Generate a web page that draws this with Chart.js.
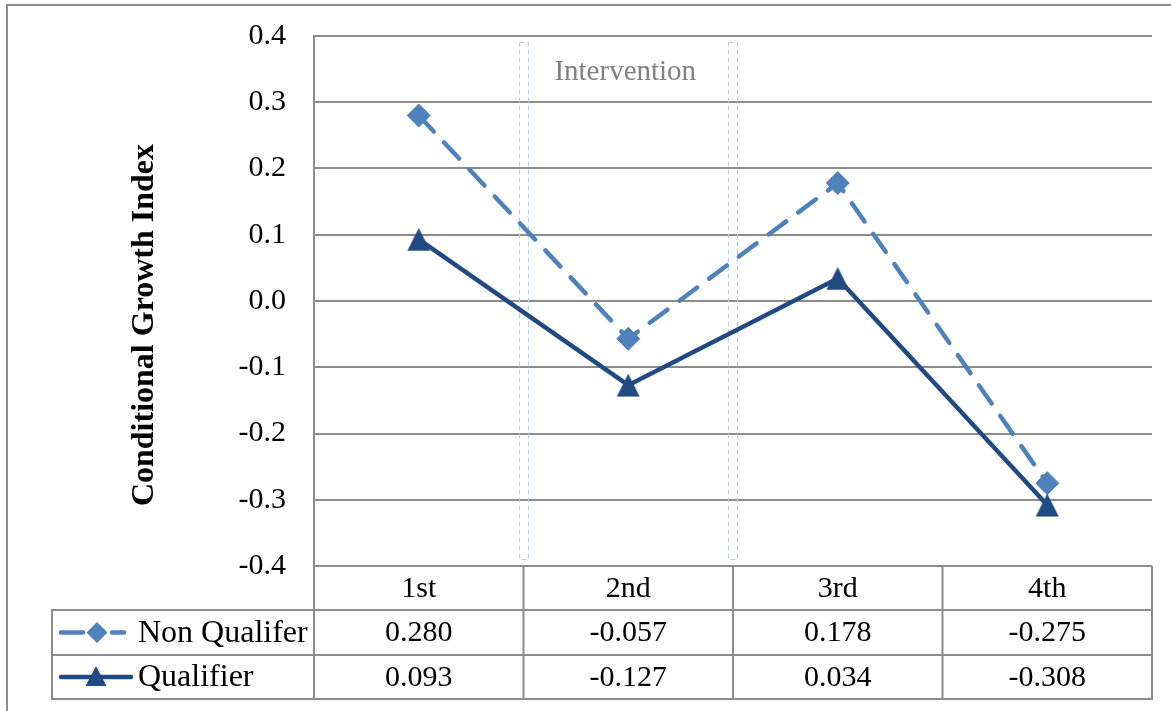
<!DOCTYPE html>
<html>
<head>
<meta charset="utf-8">
<script src="https://cdn.jsdelivr.net/npm/chart.js@4.4.1/dist/chart.umd.min.js"></script>
<style>
  html, body { margin: 0; padding: 0; background: #ffffff; }
  canvas { display: block; }
</style>
</head>
<body>
<canvas id="growth" width="1171" height="711"></canvas>
<script>
// Quarterly conditional growth index for the two groups
const categories = ['1st', '2nd', '3rd', '4th'];
const nonQualifier = [0.280, -0.057, 0.178, -0.275];
const qualifier = [0.093, -0.127, 0.034, -0.308];
const seriesNames = ['Non Qualifer', 'Qualifier'];
const yMin = -0.4;
const yMax = 0.4;
const yStep = 0.1;
const axisTitle = 'Conditional Growth Index';
const noteText = 'Intervention';
// The intervention window sits between these two category boundaries
const interventionFrom = 0;
const interventionTo = 1;

const SERIF = "'Liberation Serif', 'Times New Roman', serif";
const GRID = '#8c8c8c';
const LIGHT_BLUE = '#4f81bd';
const DARK_BLUE = '#224a82';

Chart.defaults.font.family = SERIF;
Chart.defaults.color = '#000000';

function drawDiamond(ctx, cx, cy, r, color) {
  ctx.beginPath();
  ctx.moveTo(cx, cy - r);
  ctx.lineTo(cx + r, cy);
  ctx.lineTo(cx, cy + r);
  ctx.lineTo(cx - r, cy);
  ctx.closePath();
  ctx.fillStyle = color;
  ctx.fill();
}

function drawTriangle(ctx, cx, cy, w, h, color) {
  ctx.beginPath();
  ctx.moveTo(cx, cy - h / 2);
  ctx.lineTo(cx + w / 2, cy + h / 2);
  ctx.lineTo(cx - w / 2, cy + h / 2);
  ctx.closePath();
  ctx.fillStyle = color;
  ctx.fill();
}

// Marker image: a triangle centred on its bounding box
function triangleMarker(size, color) {
  const c = document.createElement('canvas');
  c.width = size;
  c.height = size;
  drawTriangle(c.getContext('2d'), size / 2, size / 2, size - 1, size - 1, color);
  return c;
}

// Page frame, white background and the rotated axis title
const framePlugin = {
  id: 'frame',
  beforeDraw(chart) {
    const ctx = chart.ctx;
    ctx.save();
    ctx.fillStyle = '#ffffff';
    ctx.fillRect(0, 0, chart.width, chart.height);
    ctx.strokeStyle = GRID;
    ctx.lineWidth = 2;
    ctx.beginPath();
    ctx.moveTo(7, chart.height + 2);
    ctx.lineTo(7, 5);
    ctx.lineTo(chart.width + 2, 5);
    ctx.stroke();
    ctx.restore();
  },
  afterDraw(chart) {
    const ctx = chart.ctx;
    ctx.save();
    ctx.translate(153, 325);
    ctx.rotate(-Math.PI / 2);
    ctx.font = 'bold 32px ' + SERIF;
    ctx.fillStyle = '#000000';
    ctx.textAlign = 'center';
    ctx.textBaseline = 'alphabetic';
    ctx.fillText(axisTitle, 0, 0);
    ctx.restore();
  }
};

// Dashed brackets marking the intervention period, with its caption
const interventionPlugin = {
  id: 'intervention',
  beforeDatasetsDraw(chart) {
    const ctx = chart.ctx;
    const xs = chart.scales.x;
    const area = chart.chartArea;
    const half = (xs.getPixelForValue(1) - xs.getPixelForValue(0)) / 2;
    const left = xs.getPixelForValue(interventionFrom) + half;
    const right = xs.getPixelForValue(interventionTo) + half;
    ctx.save();
    ctx.strokeStyle = '#b9cde5';
    ctx.lineWidth = 1;
    ctx.setLineDash([5, 3]);
    [left, right].forEach(cx => {
      ctx.strokeRect(Math.round(cx - 5) + 0.5, area.top + 6.5, 9, area.bottom - area.top - 13);
    });
    ctx.setLineDash([]);
    ctx.font = '29px ' + SERIF;
    ctx.fillStyle = '#808080';
    ctx.textAlign = 'center';
    ctx.textBaseline = 'middle';
    ctx.fillText(noteText, (left + right) / 2 - 3, area.top + 36);
    ctx.restore();
  }
};

// Data table under the plot: category header, legend keys and values
const tablePlugin = {
  id: 'dataTable',
  afterDraw(chart) {
    const ctx = chart.ctx;
    const xs = chart.scales.x;
    const area = chart.chartArea;
    const step = xs.getPixelForValue(1) - xs.getPixelForValue(0);
    const edges = [area.left];
    categories.forEach((c, i) => edges.push(xs.getPixelForValue(i) + step / 2));
    edges[edges.length - 1] = area.right;

    const top = area.bottom;
    const headerBottom = top + 44;
    const row1Bottom = headerBottom + 45;
    const row2Bottom = row1Bottom + 44;
    const tableLeft = 52;

    ctx.save();
    ctx.strokeStyle = GRID;
    ctx.lineWidth = 2;
    ctx.beginPath();
    edges.forEach(ex => {
      ctx.moveTo(ex, top);
      ctx.lineTo(ex, row2Bottom);
    });
    ctx.moveTo(tableLeft, headerBottom);
    ctx.lineTo(tableLeft, row2Bottom);
    [headerBottom, row1Bottom, row2Bottom].forEach(yy => {
      ctx.moveTo(tableLeft - 1, yy);
      ctx.lineTo(area.right + 1, yy);
    });
    ctx.stroke();

    ctx.font = '30px ' + SERIF;
    ctx.fillStyle = '#000000';
    ctx.textAlign = 'center';
    ctx.textBaseline = 'middle';
    const headerMid = (top + headerBottom) / 2 + 1;
    const row1Mid = (headerBottom + row1Bottom) / 2 + 1;
    const row2Mid = (row1Bottom + row2Bottom) / 2 + 1;
    categories.forEach((c, i) => {
      const cx = xs.getPixelForValue(i);
      ctx.fillText(c, cx, headerMid);
      ctx.fillText(nonQualifier[i].toFixed(3), cx, row1Mid);
      ctx.fillText(qualifier[i].toFixed(3), cx, row2Mid);
    });

    ctx.font = '32px ' + SERIF;
    ctx.textAlign = 'left';
    ctx.fillText(seriesNames[0], 138, row1Mid);
    ctx.fillText(seriesNames[1], 138, row2Mid);

    // legend key: dashed line with diamond
    const k1 = row1Mid - 1;
    ctx.strokeStyle = LIGHT_BLUE;
    ctx.lineWidth = 4.5;
    ctx.lineCap = 'round';
    ctx.beginPath();
    ctx.moveTo(61, k1); ctx.lineTo(83, k1);
    ctx.moveTo(112, k1); ctx.lineTo(124, k1);
    ctx.stroke();
    drawDiamond(ctx, 97, k1, 10.5, LIGHT_BLUE);

    // legend key: solid line with triangle
    const k2 = row2Mid - 1;
    ctx.strokeStyle = DARK_BLUE;
    ctx.beginPath();
    ctx.moveTo(61, k2); ctx.lineTo(131, k2);
    ctx.stroke();
    drawTriangle(ctx, 96, k2 - 1, 21, 20, DARK_BLUE);
    ctx.restore();
  }
};

new Chart(document.getElementById('growth'), {
  type: 'line',
  data: {
    labels: categories,
    datasets: [
      {
        label: seriesNames[0],
        data: nonQualifier,
        borderColor: LIGHT_BLUE,
        backgroundColor: LIGHT_BLUE,
        borderWidth: 4.5,
        borderDash: [22, 15],
        borderCapStyle: 'round',
        pointStyle: 'rectRot',
        pointRadius: 11.5,
        pointBorderWidth: 1,
        pointBorderColor: LIGHT_BLUE,
        pointBackgroundColor: LIGHT_BLUE,
        tension: 0,
        order: 1
      },
      {
        label: seriesNames[1],
        data: qualifier,
        borderColor: DARK_BLUE,
        backgroundColor: DARK_BLUE,
        borderWidth: 4.5,
        borderCapStyle: 'round',
        pointStyle: triangleMarker(24, DARK_BLUE),
        pointRadius: 12,
        tension: 0,
        order: 0
      }
    ]
  },
  options: {
    responsive: false,
    animation: false,
    devicePixelRatio: 1,
    layout: { padding: { left: 0, top: 36, right: 19, bottom: 145 } },
    plugins: {
      legend: { display: false },
      tooltip: { enabled: false },
      title: { display: false }
    },
    scales: {
      x: {
        type: 'category',
        display: false,
        offset: true
      },
      y: {
        min: yMin,
        max: yMax,
        afterFit(scale) {
          scale.width = 314;
          scale.paddingTop = 0;
          scale.paddingBottom = 0;
        },
        ticks: {
          stepSize: yStep,
          padding: 28,
          font: { size: 30, family: SERIF },
          color: '#000000',
          callback: v => (Math.abs(v) < 1e-9 ? 0 : v).toFixed(1)
        },
        grid: {
          color: GRID,
          lineWidth: 2,
          drawTicks: false
        },
        border: { display: true, color: GRID, width: 2 }
      }
    }
  },
  plugins: [framePlugin, interventionPlugin, tablePlugin]
});
</script>
</body>
</html>
